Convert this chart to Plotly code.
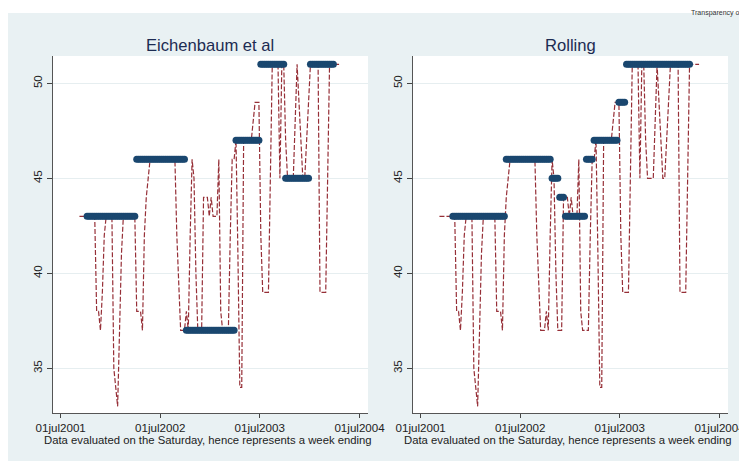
import plotly.graph_objects as go
import pandas as pd

# ---------------- data ----------------
start_week = "2001-09-08"   # first Saturday observed
price = [
    43, 43, 43, 43, 43, 43, 43, 43, 43, 38,   # 0-9
    38, 37, 39, 42, 43, 43, 43, 43, 35, 34,   # 10-19
    33, 37, 41, 43, 43, 43, 43, 43, 43, 43,   # 20-29
    38, 38, 38, 37, 42, 44, 45, 46, 46, 46,   # 30-39
    46, 46, 46, 46, 46, 46, 46, 46, 46, 46,   # 40-49
    46, 42, 39, 37, 37, 37, 38, 37, 42, 46,   # 50-59
    45, 40, 37, 37, 37, 44, 44, 44, 43, 44,   # 60-69
    43, 43, 43, 46, 38, 37, 37, 37, 37, 42,   # 70-79
    46, 46, 47, 41, 34, 34, 47, 47, 47, 47,   # 80-89
    47, 48, 49, 49, 49, 42, 39, 39, 39, 39,   # 90-99
    45, 51, 51, 51, 51, 45, 51, 51, 47, 45,   # 100-109
    45, 45, 45, 48, 51, 49, 47, 45, 45, 47,   # 110-119
    49, 51, 51, 51, 51, 51, 39, 39, 39, 39,   # 120-129
    45, 51, 51, 51, 51, 51, 51,               # 130-136
]

eich_levels = [43, 46, 37, 47, 51, 45, 51]
eich_start = ["2001-10-01", "2002-04-01", "2002-10-01", "2003-04-01",
              "2003-07-01", "2003-10-01", "2004-01-01"]
eich_end = ["2002-03-31", "2002-09-30", "2003-03-31", "2003-06-30",
            "2003-09-30", "2003-12-31", "2004-03-31"]

roll_levels = [43, 46, 45, 44, 43, 46, 47, 49, 51]
roll_start = ["2001-10-27", "2002-05-11", "2002-10-26", "2002-11-23", "2002-12-14",
              "2003-03-01", "2003-03-29", "2003-06-28", "2003-07-26"]
roll_end = ["2002-05-04", "2002-10-19", "2002-11-16", "2002-12-07", "2003-02-22",
            "2003-03-22", "2003-06-21", "2003-07-19", "2004-03-13"]

panel_titles = ["Eichenbaum et al", "Rolling"]
tick_dates = ["2001-07-01", "2002-07-01", "2003-07-01", "2004-07-01"]
tick_text = ["01jul2001", "01jul2002", "01jul2003", "01jul2004"]
y_ticks = [35, 40, 45, 50]
note = "Data evaluated on the Saturday, hence represents a week ending"

# ---------------- build ----------------
weeks = pd.date_range(start_week, periods=len(price), freq="7D")


def ref_series(levels, starts, ends):
    out = []
    for d in weeks:
        v = None
        for lv, s, e in zip(levels, starts, ends):
            if pd.Timestamp(s) <= d <= pd.Timestamp(e):
                v = lv
        out.append(v)
    return out


refs = [ref_series(eich_levels, eich_start, eich_end),
        ref_series(roll_levels, roll_start, roll_end)]

# page body has an 8px margin: figure is placed at (8, 8)
OFF = 8
W, H = 747 - OFF, 461 - OFF
BG = "#e9f1f3"
NAVY = "#1a476f"
MAROON = "#962f37"
FONT = "Liberation Sans, Arial, sans-serif"
FS = 11.6


def px(x):
    return (x - OFF) / W


def py(y):
    return 1 - (y - OFF) / H


fig = go.Figure()
for k in range(2):
    xa = "x" if k == 0 else "x2"
    ya = "y" if k == 0 else "y2"
    fig.add_trace(go.Scatter(
        x=weeks, y=price, mode="lines", xaxis=xa, yaxis=ya,
        line=dict(color=MAROON, width=1.2, dash="5px,2px"),
        showlegend=False, hoverinfo="skip"))
    fig.add_trace(go.Scatter(
        x=weeks, y=refs[k], mode="markers", xaxis=xa, yaxis=ya,
        marker=dict(color=NAVY, size=7, line=dict(width=0)),
        showlegend=False, hoverinfo="skip"))

x_dom = [[px(53), px(368)], [px(413), px(728)]]
y_dom = [py(413), py(56)]

axis_common_x = dict(
    range=["2001-06-03", "2004-08-01"], tickvals=tick_dates, ticktext=tick_text,
    ticks="outside", ticklen=4, tickcolor="#444", showline=True, linecolor="#555",
    linewidth=1, showgrid=False, zeroline=False, automargin=False,
    tickfont=dict(family=FONT, size=FS, color="#222"))
axis_common_y = dict(
    range=[32.65, 51.44], tickvals=y_ticks, ticks="outside", ticklen=5,
    tickcolor="#444", showline=True, linecolor="#555", linewidth=1,
    showgrid=True, gridcolor="#e6eef0", gridwidth=1, zeroline=False, tickangle=-90,
    automargin=False, tickfont=dict(family=FONT, size=FS, color="#222"))

fig.update_layout(
    width=W, height=H, margin=dict(l=0, r=0, t=0, b=0, autoexpand=False),
    paper_bgcolor=BG, plot_bgcolor="white",
    xaxis=dict(domain=x_dom[0], anchor="y", **axis_common_x),
    xaxis2=dict(domain=x_dom[1], anchor="y2", **axis_common_x),
    yaxis=dict(domain=y_dom, anchor="x", **axis_common_y),
    yaxis2=dict(domain=y_dom, anchor="x2", **axis_common_y),
)

# white strip on top of the graph region
fig.add_shape(type="rect", xref="paper", yref="paper", x0=0, x1=1,
              y0=py(13), y1=1, fillcolor="white", line=dict(width=0), layer="below")

centers = [210, 570]
note_x = [43, 403]
for k in range(2):
    fig.add_annotation(x=px(centers[k]), y=py(46), xref="paper", yref="paper",
                       text=panel_titles[k], showarrow=False, xanchor="center",
                       yanchor="middle",
                       font=dict(family=FONT, size=16.6, color="#1c2b52"))
    fig.add_annotation(x=px(note_x[k]), y=py(440), xref="paper", yref="paper",
                       text=note, showarrow=False, xanchor="left", yanchor="middle",
                       borderpad=0, font=dict(family=FONT, size=11.3, color="#222"))

fig.add_annotation(x=px(690), y=1, xref="paper", yref="paper",
                   text="Transparency of", showarrow=False, xanchor="left",
                   yanchor="top", borderpad=0,
                   font=dict(family=FONT, size=7, color="#333"))

fig.write_html("out.html")
